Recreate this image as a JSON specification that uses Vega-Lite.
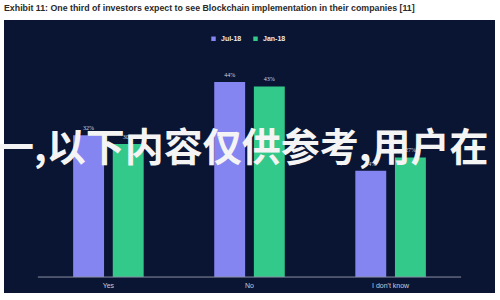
{
  "$schema": "https://vega.github.io/schema/vega-lite/v6.json",
  "width": 491,
  "height": 273,
  "autosize": {"type": "none"},
  "padding": {"left": 4, "right": 5, "top": 20, "bottom": 7},
  "background": "#ffffff",
  "view": {"fill": "#0a1433", "stroke": null},
  "title": {
    "text": "Exhibit 11: One third of investors expect to see Blockchain implementation in their companies [11]",
    "anchor": "start",
    "frame": "group",
    "offset": 7,
    "font": "Liberation Sans",
    "fontSize": 8.8,
    "fontWeight": "bold",
    "color": "#2a2a2a"
  },
  "data": {
    "values": [
      {"answer": "Yes", "survey": "Jul-18", "share": 32},
      {"answer": "Yes", "survey": "Jan-18", "share": 30},
      {"answer": "No", "survey": "Jul-18", "share": 44},
      {"answer": "No", "survey": "Jan-18", "share": 43},
      {"answer": "I don't know", "survey": "Jul-18", "share": 24},
      {"answer": "I don't know", "survey": "Jan-18", "share": 27}
    ]
  },
  "layer": [
    {
      "mark": {"type": "bar"},
      "encoding": {
        "x": {
          "field": "answer",
          "type": "nominal",
          "scale": {"domain": ["Yes", "No", "I don't know"], "paddingInner": 0.5, "paddingOuter": 0.49},
          "axis": {
            "title": null,
            "offset": -16,
            "domain": false,
            "ticks": false,
            "labelAngle": 0,
            "labelPadding": 4,
            "labelFont": "Liberation Sans",
            "labelFontSize": 7,
            "labelColor": "#c8ccd8"
          }
        },
        "xOffset": {
          "field": "survey",
          "type": "nominal",
          "scale": {"domain": ["Jul-18", "Jan-18"], "paddingInner": 0.22, "paddingOuter": 0}
        },
        "y": {
          "field": "share",
          "type": "quantitative",
          "stack": null,
          "scale": {"domain": [-3.6, 58], "nice": false, "zero": false},
          "axis": null
        },
        "y2": {"datum": 0},
        "color": {
          "field": "survey",
          "type": "nominal",
          "scale": {"domain": ["Jul-18", "Jan-18"], "range": ["#8585f2", "#33c98a"]},
          "legend": {
            "title": null,
            "orient": "none",
            "direction": "horizontal",
            "legendX": 206,
            "legendY": 15,
            "symbolType": "square",
            "symbolSize": 20,
            "symbolStrokeWidth": 0,
            "labelFont": "Liberation Sans",
            "labelFontSize": 7,
            "labelFontWeight": "bold",
            "labelColor": "#e8ecf4",
            "columnPadding": 10
          }
        }
      }
    },
    {
      "transform": [{"calculate": "datum.share + '%'", "as": "label"}],
      "mark": {"type": "text", "baseline": "bottom", "dy": -4, "font": "Liberation Serif", "fontSize": 6, "color": "#d0d4e0"},
      "encoding": {
        "x": {"field": "answer", "type": "nominal"},
        "xOffset": {"field": "survey", "type": "nominal"},
        "y": {"field": "share", "type": "quantitative"},
        "text": {"field": "label", "type": "nominal"}
      }
    },
    {
      "data": {"values": [{"from": "Yes", "to": "I don't know", "level": 0}]},
      "mark": {"type": "rule", "color": "#8a90a4", "strokeWidth": 1},
      "encoding": {
        "x": {"field": "from", "type": "nominal", "bandPosition": -0.5},
        "x2": {"field": "to", "bandPosition": 1.5},
        "y": {"field": "level", "type": "quantitative"}
      }
    },
    {
      "data": {"values": [{"note": "一,以下内容仅供参考,用户在"}]},
      "mark": {"type": "text", "baseline": "middle", "align": "center", "font": "Noto Sans CJK SC", "fontSize": 39, "fontWeight": "bold", "color": "#f4f4f4"},
      "encoding": {
        "x": {"datum": "No", "bandPosition": 0.39},
        "y": {"datum": 29},
        "text": {"field": "note"}
      }
    }
  ]
}
